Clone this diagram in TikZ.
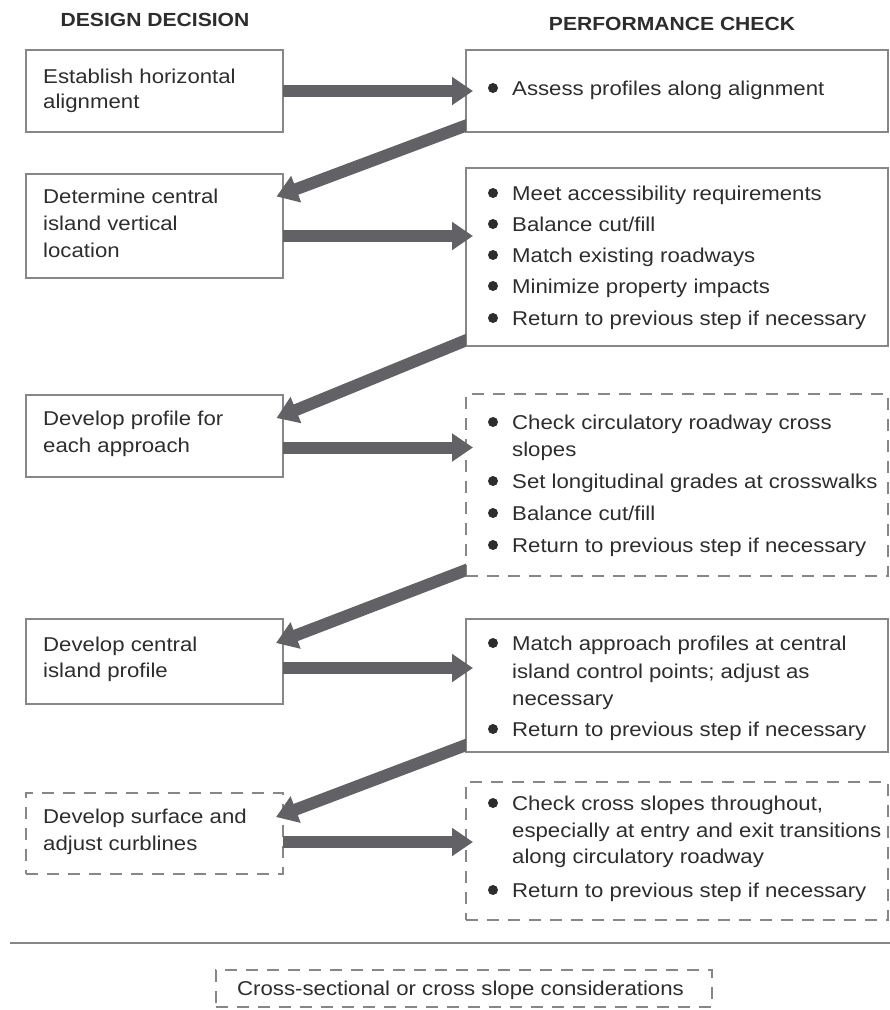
\documentclass[tikz,border=0pt]{standalone}
\usepackage{fontspec}
\setmainfont{Liberation Sans}[FakeStretch=1.11]
\usetikzlibrary{arrows.meta,calc}
\definecolor{boxline}{RGB}{135,135,135}
\definecolor{arrowc}{RGB}{98,98,102}
\definecolor{txtc}{RGB}{45,45,45}
\newcommand{\blt}[3]{\node[dot] (#1d) at (493,#2-7) {}; \node[txt] (#1) at (512,#2) {#3};}
\begin{document}
\begin{tikzpicture}[x=1pt,y=-1pt,
  box/.style={draw=boxline,line width=1.3pt,inner sep=0pt,outer sep=0pt,anchor=north west},
  dbox/.style={box,dash pattern=on 12pt off 9pt},
  lbox/.style={box,minimum width=257pt},
  rbox/.style={box,minimum width=422pt},
  txt/.style={anchor=base west,inner sep=0pt,text=txtc,font=\fontsize{20}{24}\selectfont},
  head/.style={anchor=base,inner sep=0pt,text=txtc,font=\fontsize{19}{23}\selectfont\bfseries},
  bigarrow/.style={draw=arrowc,line width=12pt,-{Triangle[length=21pt,width=27pt]}},
  dot/.style={circle,fill=txtc,inner sep=0pt,minimum size=10pt}
]
\useasboundingbox (0,0) rectangle (890,1010);

% headers
\node[head] (hd1) at (155,26) {DESIGN DECISION};
\node[head] (hd2) at (672,30) {PERFORMANCE CHECK};

% left boxes
\node[lbox,minimum height=82pt] (L1) at (26,50) {};
\node[lbox,minimum height=104pt] (L2) at (26,174) {};
\node[lbox,minimum height=82pt] (L3) at (26,395) {};
\node[lbox,minimum height=85pt] (L4) at (26,619) {};
\node[lbox,dbox,minimum height=81pt] (L5) at (26,793) {};

% right boxes
\node[rbox,minimum height=82pt] (R1) at (466,50) {};
\node[rbox,minimum height=178pt] (R2) at (466,168) {};
\node[rbox,dbox,minimum height=182pt] (R3) at (466,394) {};
\node[rbox,minimum height=133pt] (R4) at (466,619) {};
\node[rbox,dbox,minimum height=138pt] (R5) at (466,782) {};

% left texts
\node[txt] (l1a) at (43,83) {Establish horizontal};
\node[txt] (l1b) at (43,108) {alignment};
\node[txt] (l2a) at (43,203) {Determine central};
\node[txt] (l2b) at (43,230) {island vertical};
\node[txt] (l2c) at (43,257) {location};
\node[txt] (l3a) at (43,425) {Develop profile for};
\node[txt] (l3b) at (43,452) {each approach};
\node[txt] (l4a) at (43,651) {Develop central};
\node[txt] (l4b) at (43,677) {island profile};
\node[txt] (l5a) at (43,823) {Develop surface and};
\node[txt] (l5b) at (43,850) {adjust curblines};

% right texts
\blt{r1a}{95}{Assess profiles along alignment}
\blt{r2a}{200}{Meet accessibility requirements}
\blt{r2b}{231}{Balance cut/fill}
\blt{r2c}{262}{Match existing roadways}
\blt{r2d}{293}{Minimize property impacts}
\blt{r2e}{325}{Return to previous step if necessary}
\blt{r3a}{429}{Check circulatory roadway cross}
\node[txt] (r3a2) at (512,456) {slopes};
\blt{r3b}{488}{Set longitudinal grades at crosswalks}
\blt{r3c}{520}{Balance cut/fill}
\blt{r3d}{552}{Return to previous step if necessary}
\blt{r4a}{650}{Match approach profiles at central}
\node[txt] (r4a2) at (512,678) {island control points; adjust as};
\node[txt] (r4a3) at (512,705) {necessary};
\blt{r4b}{736}{Return to previous step if necessary}
\blt{r5a}{810}{Check cross slopes throughout,}
\node[txt] (r5a2) at (512,837) {especially at entry and exit transitions};
\node[txt] (r5a3) at (512,863) {along circulatory roadway};
\blt{r5b}{897}{Return to previous step if necessary}

% horizontal arrows
\coordinate (a1) at (0,91);
\coordinate (a2) at (0,236);
\coordinate (a3) at (0,447.5);
\coordinate (a4) at (0,668);
\coordinate (a5) at (0,842);
\draw[bigarrow] (L1.east |- a1) -- ($(R1.west |- a1)+(7,0)$);
\draw[bigarrow] (L2.east |- a2) -- ($(R2.west |- a2)+(7,0)$);
\draw[bigarrow] (L3.east |- a3) -- ($(R3.west |- a3)+(7,0)$);
\draw[bigarrow] (L4.east |- a4) -- ($(R4.west |- a4)+(7,0)$);
\draw[bigarrow] (L5.east |- a5) -- ($(R5.west |- a5)+(7,0)$);

% diagonal return arrows
\coordinate (pbottom) at (0,1010);
\begin{scope}
\clip (0,0) rectangle (R1.west |- pbottom);
\draw[bigarrow] ($(R1.south west)+(8,-9.5)$) -- ($(L2.north east)+(-6.5,22.5)$);
\draw[bigarrow] ($(R2.south west)+(8,-9)$) -- ($(L3.north east)+(-6.5,23)$);
\draw[bigarrow] ($(R3.south west)+(8,-9)$) -- ($(L4.north east)+(-7,24)$);
\draw[bigarrow] ($(R4.south west)+(8,-10)$) -- ($(L5.north east)+(-7,24)$);
\end{scope}

% separator
\coordinate (sepl) at (10,943);
\coordinate (sepr) at (890,943);
\draw[boxline,line width=1.3pt] (sepl) -- (sepr);

% legend
\node[dbox,minimum width=496pt,minimum height=37pt] (leg) at (216,970) {};
\node[txt] (legt) at (237,995) {Cross-sectional or cross slope considerations};
\end{tikzpicture}
\end{document}
